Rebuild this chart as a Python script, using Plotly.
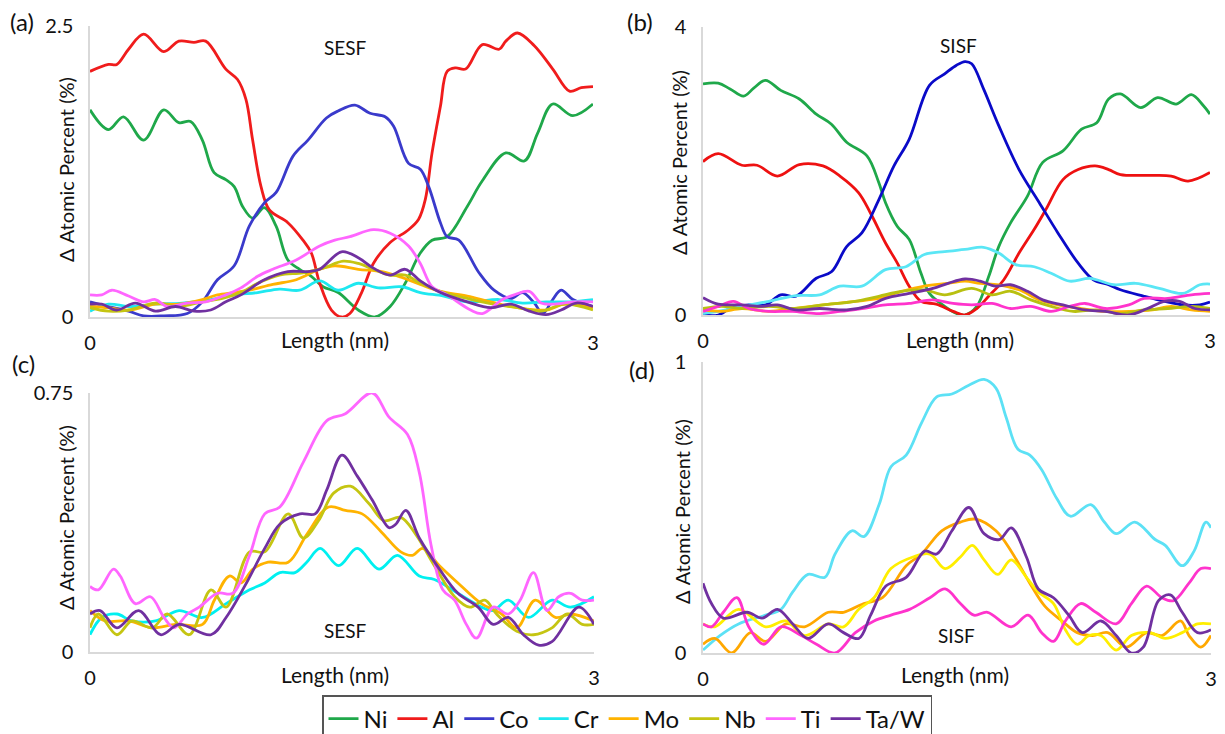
import plotly.graph_objects as go

# page is 1225x734; the html body has an 8px margin at the top/left
PAGE_W, PAGE_H, OFF = 1225, 734, 8
W, H = PAGE_W - OFF, PAGE_H - OFF

# ---------------- data (x in nm, y in Δ atomic %) ----------------
a_ni = [(0,1.78),(0.11,1.61),(0.20,1.72),(0.32,1.52),(0.44,1.78),(0.53,1.67),(0.60,1.68),(0.67,1.52),(0.74,1.24),(0.81,1.18),(0.86,1.12),(0.91,0.95),(0.97,0.85),(1.04,0.94),(1.11,0.78),(1.18,0.49),(1.25,0.41),(1.32,0.35),(1.39,0.26),(1.48,0.21),(1.60,0.06),(1.70,0.0),(1.79,0.09),(1.88,0.29),(1.97,0.55),(2.04,0.66),(2.13,0.69),(2.25,0.95),(2.34,1.17),(2.48,1.41),(2.59,1.34),(2.67,1.58),(2.76,1.83),(2.88,1.73),(3.0,1.83)]
a_al = [(0,2.11),(0.11,2.17),(0.16,2.17),(0.23,2.30),(0.32,2.43),(0.44,2.28),(0.53,2.37),(0.62,2.36),(0.69,2.37),(0.81,2.13),(0.88,2.04),(0.93,1.87),(0.97,1.52),(1.02,1.12),(1.07,0.92),(1.18,0.81),(1.27,0.66),(1.32,0.55),(1.37,0.29),(1.44,0.06),(1.50,0.0),(1.55,0.03),(1.62,0.21),(1.69,0.46),(1.79,0.64),(1.90,0.75),(1.96,0.84),(2.00,1.01),(2.04,1.41),(2.09,1.81),(2.13,2.11),(2.18,2.14),(2.24,2.13),(2.34,2.34),(2.44,2.30),(2.48,2.37),(2.55,2.44),(2.65,2.33),(2.76,2.13),(2.86,1.94),(2.93,1.97),(3.0,1.98)]
a_co = [(0,0.13),(0.11,0.09),(0.23,0.05),(0.32,0.01),(0.44,0.01),(0.58,0.03),(0.67,0.13),(0.76,0.32),(0.86,0.44),(0.95,0.78),(1.04,0.98),(1.11,1.07),(1.21,1.38),(1.30,1.52),(1.41,1.71),(1.48,1.77),(1.58,1.82),(1.67,1.75),(1.76,1.72),(1.81,1.64),(1.90,1.32),(1.97,1.27),(2.02,1.12),(2.09,0.81),(2.13,0.69),(2.20,0.66),(2.32,0.38),(2.41,0.23),(2.51,0.16),(2.58,0.21),(2.65,0.12),(2.70,0.03),(2.76,0.15),(2.81,0.23),(2.88,0.15),(3.0,0.09)]
a_cr = [(0,0.05),(0.11,0.11),(0.23,0.09),(0.39,0.11),(0.55,0.12),(0.72,0.15),(0.86,0.19),(1.0,0.21),(1.13,0.24),(1.25,0.23),(1.37,0.31),(1.48,0.23),(1.60,0.29),(1.72,0.25),(1.86,0.26),(1.97,0.21),(2.11,0.18),(2.25,0.13),(2.44,0.15),(2.58,0.12),(2.72,0.13),(2.86,0.13),(3.0,0.15)]
a_mo = [(0,0.09),(0.11,0.08),(0.23,0.06),(0.39,0.11),(0.53,0.11),(0.67,0.15),(0.76,0.19),(0.86,0.21),(0.95,0.23),(1.09,0.28),(1.23,0.32),(1.37,0.41),(1.46,0.44),(1.60,0.41),(1.74,0.39),(1.86,0.34),(1.97,0.28),(2.09,0.22),(2.25,0.18),(2.39,0.13),(2.55,0.08),(2.72,0.06),(2.83,0.11),(3.0,0.08)]
a_nb = [(0,0.08),(0.11,0.05),(0.23,0.06),(0.39,0.12),(0.53,0.09),(0.67,0.13),(0.79,0.16),(0.90,0.21),(1.0,0.29),(1.13,0.36),(1.27,0.38),(1.39,0.42),(1.51,0.48),(1.60,0.46),(1.69,0.41),(1.79,0.36),(1.88,0.36),(1.97,0.29),(2.11,0.21),(2.25,0.16),(2.41,0.11),(2.55,0.08),(2.69,0.05),(2.83,0.11),(3.0,0.06)]
a_ti = [(0,0.19),(0.07,0.19),(0.13,0.23),(0.23,0.18),(0.32,0.13),(0.39,0.15),(0.46,0.09),(0.58,0.12),(0.69,0.13),(0.81,0.19),(0.90,0.25),(1.0,0.35),(1.09,0.41),(1.23,0.49),(1.37,0.61),(1.46,0.66),(1.55,0.69),(1.69,0.75),(1.79,0.72),(1.90,0.61),(1.97,0.46),(2.04,0.26),(2.13,0.19),(2.27,0.06),(2.34,0.03),(2.46,0.15),(2.53,0.19),(2.62,0.22),(2.69,0.12),(2.76,0.11),(2.88,0.13),(3.0,0.13)]
a_taw = [(0,0.11),(0.07,0.11),(0.16,0.06),(0.27,0.12),(0.39,0.05),(0.51,0.09),(0.62,0.05),(0.72,0.06),(0.81,0.13),(0.90,0.19),(1.04,0.32),(1.18,0.39),(1.30,0.39),(1.37,0.41),(1.50,0.56),(1.60,0.51),(1.69,0.42),(1.79,0.36),(1.88,0.41),(1.97,0.31),(2.09,0.21),(2.25,0.13),(2.39,0.08),(2.51,0.11),(2.62,0.05),(2.72,0.02),(2.81,0.06),(2.90,0.12),(3.0,0.09)]

b_ni = [(0,3.21),(0.09,3.22),(0.16,3.14),(0.24,3.04),(0.30,3.15),(0.37,3.26),(0.46,3.12),(0.57,3.00),(0.67,2.79),(0.76,2.65),(0.85,2.40),(0.97,2.21),(1.04,1.84),(1.08,1.56),(1.15,1.23),(1.22,1.05),(1.29,0.58),(1.34,0.30),(1.43,0.12),(1.50,0.02),(1.55,0.0),(1.62,0.12),(1.69,0.53),(1.75,0.95),(1.82,1.28),(1.92,1.65),(2.01,2.12),(2.13,2.28),(2.24,2.58),(2.33,2.67),(2.40,3.00),(2.47,3.07),(2.59,2.88),(2.69,3.02),(2.80,2.93),(2.89,3.06),(2.96,2.91),(3.0,2.79)]
b_al = [(0,2.13),(0.09,2.24),(0.23,2.08),(0.32,2.08),(0.44,1.93),(0.57,2.09),(0.71,2.07),(0.81,1.93),(0.92,1.70),(0.99,1.42),(1.08,1.00),(1.15,0.72),(1.22,0.40),(1.29,0.19),(1.38,0.15),(1.48,0.05),(1.55,0.0),(1.62,0.09),(1.69,0.26),(1.78,0.49),(1.87,0.86),(1.96,1.19),(2.03,1.47),(2.13,1.88),(2.22,2.02),(2.32,2.07),(2.40,2.02),(2.47,1.95),(2.66,1.94),(2.77,1.93),(2.87,1.86),(3.0,1.98)]
b_co = [(0,0.0),(0.09,0.0),(0.16,0.09),(0.27,0.14),(0.37,0.14),(0.46,0.28),(0.55,0.26),(0.67,0.51),(0.76,0.60),(0.85,0.95),(0.94,1.14),(1.04,1.60),(1.13,2.07),(1.22,2.44),(1.34,3.19),(1.43,3.35),(1.50,3.47),(1.55,3.52),(1.59,3.49),(1.66,3.14),(1.75,2.63),(1.87,2.02),(1.99,1.56),(2.10,1.14),(2.22,0.72),(2.31,0.49),(2.40,0.42),(2.47,0.35),(2.61,0.26),(2.73,0.19),(2.84,0.14),(2.94,0.14),(3.0,0.18)]
b_cr = [(0,0.02),(0.09,0.05),(0.23,0.12),(0.39,0.19),(0.55,0.27),(0.69,0.28),(0.81,0.40),(0.94,0.40),(1.08,0.63),(1.20,0.67),(1.31,0.84),(1.43,0.88),(1.55,0.91),(1.66,0.94),(1.75,0.86),(1.85,0.70),(1.96,0.67),(2.06,0.58),(2.17,0.47),(2.29,0.51),(2.43,0.42),(2.56,0.44),(2.70,0.37),(2.84,0.30),(2.94,0.42),(3.0,0.43)]
b_mo = [(0,0.07),(0.11,0.05),(0.23,0.09),(0.39,0.05),(0.53,0.09),(0.71,0.14),(0.90,0.19),(1.04,0.23),(1.18,0.33),(1.31,0.40),(1.45,0.44),(1.55,0.47),(1.64,0.44),(1.75,0.42),(1.87,0.35),(1.99,0.21),(2.10,0.14),(2.24,0.09),(2.38,0.05),(2.52,0.05),(2.66,0.07),(2.77,0.12),(2.89,0.07),(3.0,0.05)]
b_nb = [(0,0.09),(0.11,0.12),(0.23,0.09),(0.39,0.12),(0.53,0.09),(0.71,0.14),(0.90,0.19),(1.04,0.26),(1.18,0.33),(1.31,0.35),(1.43,0.28),(1.59,0.37),(1.71,0.28),(1.82,0.33),(1.94,0.21),(2.06,0.12),(2.19,0.05),(2.33,0.07),(2.47,0.02),(2.61,0.07),(2.75,0.09),(2.89,0.12),(3.0,0.09)]
b_ti = [(0,0.05),(0.09,0.12),(0.18,0.19),(0.27,0.09),(0.39,0.05),(0.53,0.05),(0.67,0.02),(0.81,0.05),(0.94,0.09),(1.08,0.14),(1.22,0.16),(1.36,0.21),(1.48,0.16),(1.59,0.14),(1.71,0.16),(1.82,0.09),(1.94,0.12),(2.06,0.05),(2.17,0.12),(2.26,0.16),(2.38,0.09),(2.52,0.14),(2.61,0.23),(2.75,0.23),(2.89,0.28),(3.0,0.30)]
b_taw = [(0,0.24),(0.09,0.15),(0.23,0.14),(0.34,0.12),(0.44,0.14),(0.55,0.07),(0.69,0.09),(0.85,0.07),(0.97,0.12),(1.08,0.23),(1.22,0.30),(1.36,0.37),(1.45,0.44),(1.55,0.50),(1.64,0.47),(1.73,0.40),(1.82,0.42),(1.92,0.33),(2.01,0.21),(2.13,0.14),(2.26,0.07),(2.38,0.05),(2.52,0.0),(2.63,0.09),(2.73,0.19),(2.82,0.19),(2.91,0.09),(3.0,0.07)]

c_cr = [(0,0.05),(0.07,0.10),(0.16,0.11),(0.25,0.09),(0.39,0.09),(0.53,0.12),(0.67,0.10),(0.81,0.14),(0.95,0.18),(1.04,0.20),(1.13,0.23),(1.22,0.23),(1.29,0.26),(1.37,0.30),(1.48,0.25),(1.59,0.30),(1.72,0.24),(1.83,0.28),(1.96,0.22),(2.05,0.21),(2.19,0.17),(2.33,0.13),(2.40,0.12),(2.49,0.15),(2.61,0.10),(2.75,0.15),(2.86,0.13),(3.0,0.16)]
c_mo = [(0,0.12),(0.09,0.09),(0.23,0.09),(0.37,0.07),(0.51,0.08),(0.67,0.08),(0.74,0.15),(0.83,0.22),(0.90,0.20),(0.97,0.24),(1.06,0.26),(1.18,0.26),(1.29,0.34),(1.42,0.42),(1.52,0.41),(1.62,0.40),(1.73,0.35),(1.85,0.29),(1.92,0.28),(1.98,0.30),(2.08,0.25),(2.19,0.20),(2.33,0.14),(2.45,0.11),(2.54,0.07),(2.65,0.15),(2.77,0.10),(2.86,0.11),(3.0,0.09)]
c_nb = [(0,0.07),(0.05,0.11),(0.16,0.05),(0.25,0.09),(0.37,0.07),(0.46,0.11),(0.59,0.05),(0.72,0.18),(0.81,0.13),(0.95,0.29),(1.04,0.29),(1.18,0.40),(1.27,0.33),(1.36,0.38),(1.45,0.46),(1.55,0.48),(1.66,0.43),(1.75,0.38),(1.85,0.39),(1.94,0.34),(2.05,0.25),(2.17,0.16),(2.26,0.13),(2.35,0.15),(2.42,0.11),(2.54,0.06),(2.64,0.05),(2.75,0.07),(2.84,0.11),(2.93,0.08),(3.0,0.08)]
c_ti = [(0,0.19),(0.05,0.18),(0.14,0.24),(0.18,0.22),(0.27,0.14),(0.36,0.16),(0.44,0.10),(0.50,0.07),(0.58,0.11),(0.65,0.13),(0.76,0.17),(0.85,0.17),(0.95,0.28),(1.04,0.40),(1.13,0.42),(1.27,0.55),(1.41,0.67),(1.52,0.69),(1.68,0.75),(1.78,0.68),(1.89,0.63),(1.96,0.52),(2.03,0.31),(2.10,0.18),(2.17,0.15),(2.24,0.08),(2.30,0.04),(2.40,0.13),(2.49,0.11),(2.56,0.15),(2.64,0.23),(2.72,0.12),(2.79,0.16),(2.86,0.17),(2.93,0.15),(3.0,0.15)]
c_taw = [(0,0.11),(0.06,0.12),(0.16,0.07),(0.29,0.12),(0.42,0.05),(0.53,0.08),(0.72,0.05),(0.81,0.10),(0.92,0.19),(1.04,0.30),(1.13,0.37),(1.25,0.40),(1.34,0.40),(1.41,0.47),(1.50,0.57),(1.59,0.51),(1.68,0.44),(1.78,0.36),(1.82,0.37),(1.88,0.41),(1.96,0.33),(2.08,0.24),(2.19,0.17),(2.31,0.13),(2.40,0.08),(2.49,0.10),(2.58,0.05),(2.67,0.02),(2.75,0.03),(2.91,0.13),(3.0,0.08)]

d_cr = [(0,0.01),(0.10,0.06),(0.21,0.10),(0.37,0.13),(0.46,0.15),(0.53,0.21),(0.62,0.27),(0.72,0.26),(0.78,0.34),(0.88,0.42),(0.95,0.40),(1.04,0.51),(1.11,0.64),(1.20,0.68),(1.29,0.79),(1.38,0.88),(1.47,0.89),(1.57,0.92),(1.66,0.94),(1.73,0.91),(1.79,0.81),(1.86,0.70),(1.93,0.68),(2.00,0.63),(2.09,0.53),(2.17,0.47),(2.29,0.51),(2.37,0.45),(2.44,0.41),(2.55,0.45),(2.67,0.39),(2.73,0.37),(2.83,0.30),(2.90,0.35),(2.97,0.45),(3.0,0.43)]
d_mo = [(0,0.03),(0.07,0.05),(0.17,0.0),(0.28,0.07),(0.37,0.04),(0.49,0.10),(0.60,0.09),(0.74,0.14),(0.83,0.14),(0.95,0.17),(1.06,0.19),(1.20,0.30),(1.29,0.34),(1.41,0.42),(1.52,0.45),(1.61,0.46),(1.73,0.42),(1.82,0.35),(1.93,0.24),(2.02,0.16),(2.12,0.11),(2.21,0.07),(2.30,0.06),(2.39,0.07),(2.50,0.02),(2.62,0.07),(2.71,0.06),(2.82,0.11),(2.87,0.06),(2.94,0.02),(3.0,0.06)]
d_nb = [(0,0.10),(0.07,0.09),(0.21,0.15),(0.37,0.09),(0.49,0.11),(0.60,0.06),(0.74,0.10),(0.83,0.09),(0.92,0.15),(1.01,0.19),(1.11,0.29),(1.24,0.33),(1.34,0.34),(1.43,0.29),(1.52,0.33),(1.59,0.37),(1.66,0.32),(1.74,0.27),(1.82,0.32),(1.91,0.26),(1.98,0.21),(2.07,0.17),(2.14,0.08),(2.21,0.03),(2.28,0.06),(2.35,0.06),(2.44,0.01),(2.53,0.06),(2.64,0.07),(2.73,0.05),(2.83,0.07),(2.92,0.10),(3.0,0.10)]
d_ti = [(0,0.10),(0.05,0.09),(0.12,0.14),(0.20,0.19),(0.27,0.09),(0.36,0.03),(0.46,0.09),(0.58,0.06),(0.67,0.03),(0.78,0.0),(0.90,0.07),(1.01,0.11),(1.11,0.13),(1.22,0.15),(1.34,0.19),(1.43,0.22),(1.52,0.17),(1.60,0.13),(1.68,0.14),(1.82,0.09),(1.92,0.13),(2.00,0.07),(2.07,0.04),(2.14,0.11),(2.23,0.17),(2.32,0.14),(2.44,0.10),(2.53,0.17),(2.62,0.23),(2.71,0.19),(2.78,0.18),(2.87,0.24),(2.94,0.29),(3.0,0.29)]
d_taw = [(0,0.24),(0.05,0.17),(0.12,0.12),(0.26,0.14),(0.35,0.12),(0.44,0.15),(0.53,0.10),(0.62,0.05),(0.74,0.10),(0.83,0.07),(0.92,0.05),(0.99,0.13),(1.08,0.23),(1.20,0.26),(1.31,0.35),(1.38,0.34),(1.47,0.42),(1.57,0.50),(1.66,0.41),(1.75,0.39),(1.82,0.43),(1.91,0.33),(1.98,0.22),(2.07,0.19),(2.16,0.13),(2.24,0.07),(2.35,0.11),(2.44,0.06),(2.53,0.0),(2.60,0.02),(2.69,0.18),(2.76,0.20),(2.83,0.14),(2.92,0.07),(3.0,0.08)]

elements = ["Ni", "Al", "Co", "Cr", "Mo", "Nb", "Ti", "Ta/W"]
x_ticks = [0, 3]
y_max = {"a": 2.5, "b": 4, "c": 0.75, "d": 1}
y_ticktext = {"a": ["0", "2.5"], "b": ["0", "4"], "c": ["0", "0.75"], "d": ["0", "1"]}
panel_titles = {"a": "SESF", "b": "SISF", "c": "SESF", "d": "SISF"}

panels = {
    "a": {"Ni": a_ni, "Al": a_al, "Co": a_co, "Cr": a_cr, "Mo": a_mo, "Nb": a_nb, "Ti": a_ti, "Ta/W": a_taw},
    "b": {"Ni": b_ni, "Al": b_al, "Co": b_co, "Cr": b_cr, "Mo": b_mo, "Nb": b_nb, "Ti": b_ti, "Ta/W": b_taw},
    "c": {"Cr": c_cr, "Mo": c_mo, "Nb": c_nb, "Ti": c_ti, "Ta/W": c_taw},
    "d": {"Cr": d_cr, "Mo": d_mo, "Nb": d_nb, "Ti": d_ti, "Ta/W": d_taw},
}

# ---------------- styling ----------------
base_colors = {"Ni": "#1fa84a", "Al": "#f01c1c", "Co": "#3a3acb", "Cr": "#1ee8f0",
               "Mo": "#ffb300", "Nb": "#c5c512", "Ti": "#ff66ff", "Ta/W": "#7030a0"}
panel_colors = {
    "a": dict(base_colors),
    "b": dict(base_colors, Al="#ee1111", Co="#0a0ac8", Cr="#5ae6f5", Nb="#b8c010", Ti="#ff33cc"),
    "c": dict(base_colors, Cr="#00f0f0"),
    "d": dict(base_colors, Cr="#5ce1f5", Mo="#ffa800", Nb="#ffee00", Ti="#ff33cc"),
}

FONT = "Lato"
TXT = "#111111"

def px(x):
    """page pixel x -> paper fraction"""
    return (x - OFF) / W

def py(y):
    """page pixel y -> paper fraction"""
    return 1 - (y - OFF) / H

# plot-area boxes in page pixels: (left, right, top, bottom)
boxes = {"a": (90, 593, 26, 317), "b": (703, 1210, 27, 315),
         "c": (90, 594, 393, 652), "d": (703, 1211, 362, 653)}
axis_ids = {"a": "", "b": "2", "c": "3", "d": "4"}

fig = go.Figure()
for key, series in panels.items():
    aid = axis_ids[key]
    for el in elements:
        if el not in series:
            continue
        pts = series[el]
        fig.add_trace(go.Scatter(
            x=[p[0] for p in pts], y=[p[1] for p in pts],
            mode="lines", name=el,
            line=dict(color=panel_colors[key][el], width=2.8, shape="spline", smoothing=1.0),
            xaxis="x" + aid, yaxis="y" + aid,
            showlegend=(key == "a"), legendgroup=el, hoverinfo="skip",
        ))

layout = dict(
    width=W, height=H, margin=dict(l=0, r=0, t=0, b=0, autoexpand=False),
    paper_bgcolor="white", plot_bgcolor="white",
    font=dict(family=FONT, color=TXT, size=20),
    showlegend=True,
    legend=dict(orientation="h", x=px(627), xanchor="center", y=py(695), yanchor="top",
                bordercolor="#555555", borderwidth=1.5, bgcolor="white",
                font=dict(family=FONT, size=24, color=TXT), itemwidth=30,
                traceorder="normal"),
)
annotations = []
for key, (l, r, t, b) in boxes.items():
    aid = axis_ids[key]
    layout["xaxis" + aid] = dict(
        domain=[px(l), px(r)], range=[0, 3], anchor="y" + aid,
        tickvals=x_ticks, ticktext=["0", "3"], showgrid=False, zeroline=False,
        showline=True, linecolor="#d9d9d9", linewidth=1.5, ticks="", automargin=False,
        ticklabelstandoff=7, tickfont=dict(size=20, color=TXT))
    layout["yaxis" + aid] = dict(
        domain=[py(b), py(t)], range=[0, y_max[key]], anchor="x" + aid,
        tickvals=[0, y_max[key]], ticktext=y_ticktext[key], showgrid=False, zeroline=False,
        showline=True, linecolor="#d9d9d9", linewidth=1.5, ticks="", automargin=False,
        ticklabelstandoff=11, tickfont=dict(size=20, color=TXT))

# axis titles, panel titles and letters (page pixel centres)
title_pos = {"a": (345, 47), "b": (958, 46), "c": (345, 630), "d": (956, 635)}
xlab_pos = {"a": (335, 340), "b": (960, 339), "c": (335, 674), "d": (955, 674)}
ylab_pos = {"a": (66, 169), "b": (679, 163), "c": (66, 517), "d": (682, 512)}
letter_pos = {"a": (22, 21), "b": (640, 22), "c": (23, 363), "d": (642, 369)}

def label(pos, text, size, angle=0):
    return dict(x=px(pos[0]), y=py(pos[1]), xref="paper", yref="paper", xanchor="center",
                yanchor="middle", text=text, textangle=angle, showarrow=False,
                font=dict(family=FONT, size=size, color=TXT))

for key in boxes:
    annotations.append(label(title_pos[key], panel_titles[key], 19))
    annotations.append(label(xlab_pos[key], "Length (nm)", 21))
    annotations.append(label(ylab_pos[key], "Δ Atomic Percent (%)", 20, -90))
    annotations.append(label(letter_pos[key], "(" + key + ")", 24))
layout["annotations"] = annotations
fig.update_layout(**layout)

fig.write_html("out.html")
